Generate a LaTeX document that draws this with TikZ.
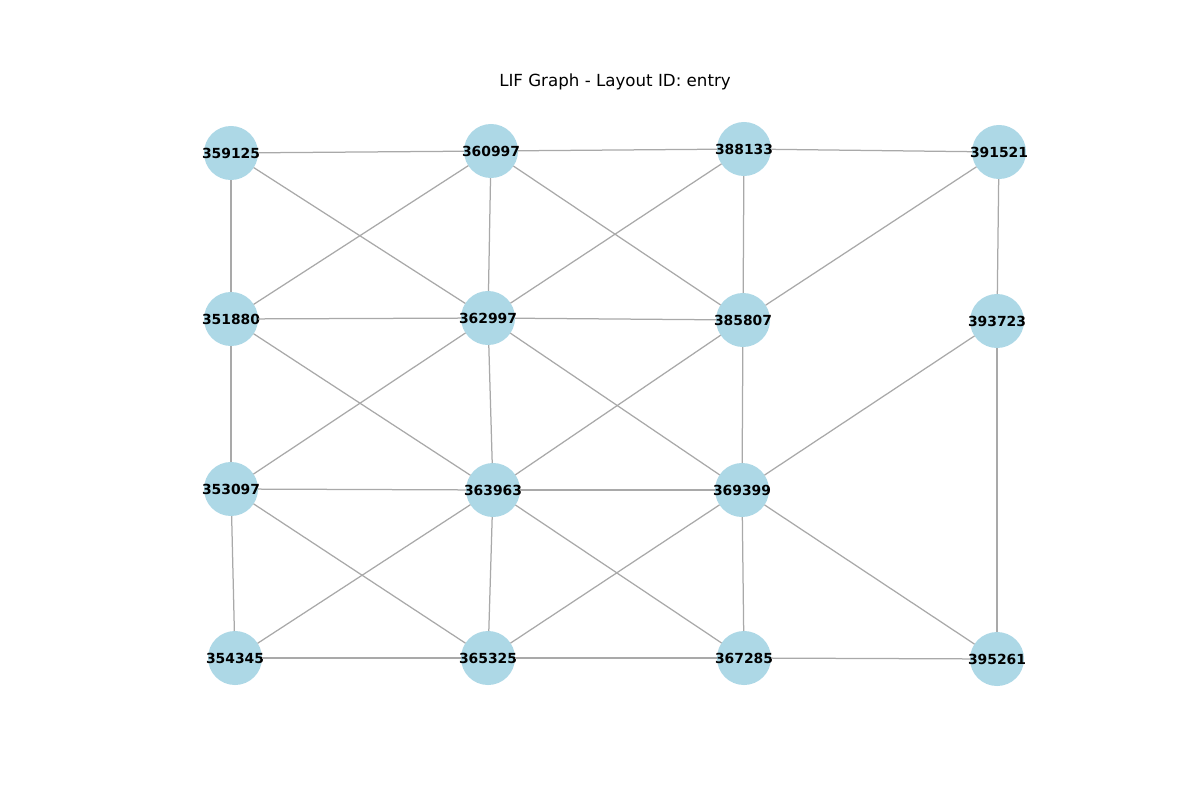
\documentclass[tikz,border=0pt]{standalone}
\usepackage{fontspec}
\setmainfont{DejaVu Sans}
\definecolor{nodeblue}{HTML}{ADD8E6}
\definecolor{edgegray}{HTML}{A9A9A9}
\tikzset{
  vtx/.style={circle, fill=nodeblue, draw=none, minimum size=38.9pt, inner sep=0pt, outer sep=0pt},
  vlabel/.style={font=\fontsize{10}{12}\selectfont\bfseries, inner sep=0pt},
  edge/.style={draw=edgegray, line width=0.9pt},
}
\newcommand{\vnode}[3]{%
  \node[vtx] (n#1) at (#2,#3) {};
  \node[vlabel] (l#1) at (#2,#3) {#1};
}
\begin{document}
\begin{tikzpicture}[x=0.72pt, y=-0.72pt]
\useasboundingbox (0,0) rectangle (1200,800);
\node[font=\fontsize{12}{14}\selectfont] (title) at (615,82) {LIF Graph - Layout ID: entry};
\vnode{359125}{231}{153}
\vnode{360997}{491}{151}
\vnode{388133}{744}{149}
\vnode{391521}{999}{152}
\vnode{351880}{231}{319}
\vnode{362997}{488}{318}
\vnode{385807}{743}{320}
\vnode{393723}{997}{321}
\vnode{353097}{231}{489}
\vnode{363963}{493}{490}
\vnode{369399}{742}{490}
\vnode{354345}{235}{658}
\vnode{365325}{488}{658}
\vnode{367285}{744}{658}
\vnode{395261}{997}{659}
\foreach \a/\b in {
  359125/360997, 360997/388133, 388133/391521,
  359125/351880, 359125/362997, 360997/351880, 360997/362997, 360997/385807,
  388133/362997, 388133/385807, 391521/385807, 391521/393723,
  351880/362997, 362997/385807,
  351880/353097, 351880/363963, 362997/353097, 362997/363963, 362997/369399,
  385807/363963, 385807/369399, 393723/369399, 393723/395261,
  353097/363963, 363963/369399,
  353097/354345, 353097/365325, 363963/354345, 363963/365325, 363963/367285,
  369399/365325, 369399/367285, 369399/395261,
  354345/365325, 365325/367285, 367285/395261}
  \draw[edge] (n\a) -- (n\b);
\end{tikzpicture}
\end{document}
